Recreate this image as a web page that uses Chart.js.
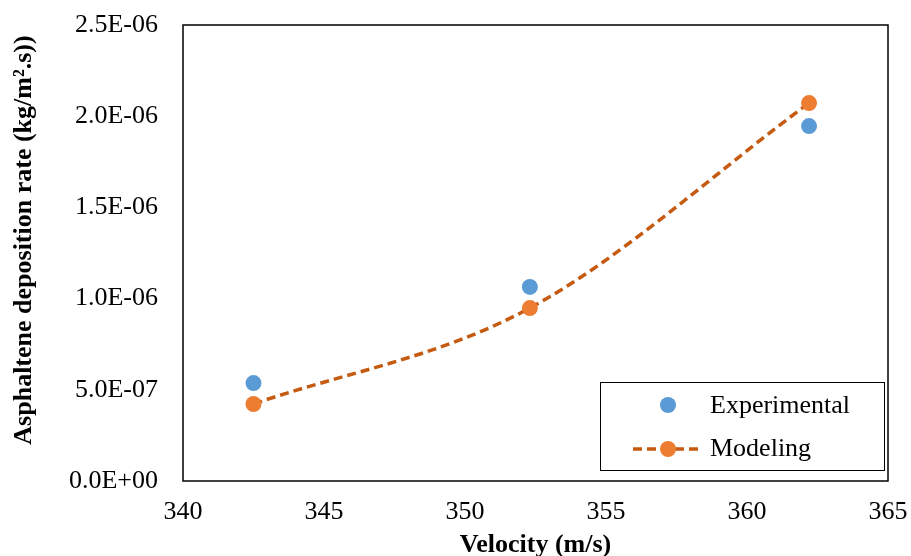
<!DOCTYPE html>
<html>
<head>
<meta charset="utf-8">
<script src="https://cdn.jsdelivr.net/npm/chart.js@4"></script>
<style>
  html, body { margin: 0; padding: 0; background: #fff; }
  #wrap { width: 911px; height: 556px; }
</style>
</head>
<body>
<div id="wrap"><canvas id="c" width="911" height="556"></canvas></div>
<script>
// values
const velocity = [342.5, 352.3, 362.2];
const experimental = [5.37e-7, 1.064e-6, 1.946e-6];
const modeling = [4.22e-7, 9.48e-7, 2.072e-6];
const xTicks = [340, 345, 350, 355, 360, 365];
const yTicks = [0, 5e-7, 1e-6, 1.5e-6, 2e-6, 2.5e-6];
const seriesNames = ["Experimental", "Modeling"];
const yTitle = "Asphaltene deposition rate (kg/m\u00B2.s))";

const SERIF = "'Liberation Serif', 'Times New Roman', serif";

function sci(v) {
  if (v === 0) return "0.0E+00";
  let e = Math.floor(Math.log10(Math.abs(v)) + 1e-9);
  let m = v / Math.pow(10, e);
  const s = e < 0 ? "-" : "+";
  const a = Math.abs(e);
  return m.toFixed(1) + "E" + s + (a < 10 ? "0" + a : a);
}

// frame box, y title and legend
const framePlugin = {
  id: "frame",
  afterDraw(chart) {
    const { ctx, chartArea: a } = chart;
    ctx.save();
    ctx.strokeStyle = "#000";
    ctx.lineWidth = 1.5;
    ctx.strokeRect(a.left, a.top, a.right - a.left, a.bottom - a.top);

    // y title
    ctx.save();
    ctx.translate(24, 240);
    ctx.rotate(-Math.PI / 2);
    ctx.font = "bold 26px " + SERIF;
    ctx.fillStyle = "#000";
    ctx.textAlign = "center";
    ctx.textBaseline = "middle";
    ctx.fillText(yTitle, 0, 0);
    ctx.restore();

    // legend box
    ctx.lineWidth = 1;
    ctx.strokeRect(600.5, 382.5, 284, 88);
    ctx.font = "26px " + SERIF;
    ctx.fillStyle = "#000";
    ctx.textBaseline = "middle";
    ctx.fillText(seriesNames[0], 710, 406);
    ctx.fillText(seriesNames[1], 710, 449);

    ctx.fillStyle = "#5B9BD5";
    ctx.beginPath(); ctx.arc(668, 405, 8, 0, Math.PI * 2); ctx.fill();

    ctx.strokeStyle = "#C55A11";
    ctx.lineWidth = 3.5;
    ctx.setLineDash([9, 5]);
    ctx.beginPath(); ctx.moveTo(633, 449); ctx.lineTo(703, 449); ctx.stroke();
    ctx.setLineDash([]);
    ctx.fillStyle = "#ED7D31";
    ctx.beginPath(); ctx.arc(668, 449, 8, 0, Math.PI * 2); ctx.fill();
    ctx.restore();
  }
};

new Chart(document.getElementById("c"), {
  type: "scatter",
  data: {
    datasets: [
      {
        label: seriesNames[0],
        data: velocity.map((x, i) => ({ x: x, y: experimental[i] })),
        showLine: false,
        pointRadius: 8,
        pointBackgroundColor: "#5B9BD5",
        pointBorderWidth: 0,
      },
      {
        label: seriesNames[1],
        data: velocity.map((x, i) => ({ x: x, y: modeling[i] })),
        showLine: true,
        borderColor: "#C55A11",
        borderWidth: 3.5,
        borderDash: [9, 5],
        tension: 0.4,
        cubicInterpolationMode: "monotone",
        pointRadius: 8,
        pointBackgroundColor: "#ED7D31",
        pointBorderWidth: 0,
      },
    ],
  },
  options: {
    responsive: false,
    animation: false,
    layout: { padding: { top: 25, right: 23, left: 0, bottom: 0 } },
    plugins: { legend: { display: false }, tooltip: { enabled: false } },
    scales: {
      x: {
        type: "linear",
        min: 340,
        max: 365,
        afterBuildTicks: (s) => { s.ticks = xTicks.map((v) => ({ value: v })); },
        afterFit: (s) => { s.height = 75; s.paddingLeft = 0; s.paddingRight = 0; },
        grid: { display: false, drawTicks: false },
        border: { display: false },
        ticks: {
          color: "#000",
          font: { family: SERIF, size: 26 },
          padding: 16,
          maxRotation: 0,
        },
        title: {
          display: true,
          text: "Velocity (m/s)",
          color: "#000",
          font: { family: SERIF, size: 26, weight: "bold" },
          padding: { top: 0, bottom: -5 },
        },
      },
      y: {
        min: 0,
        max: 2.5e-6,
        afterBuildTicks: (s) => { s.ticks = yTicks.map((v) => ({ value: v })); },
        afterFit: (s) => { s.width = 183; s.paddingTop = 0; s.paddingBottom = 0; },
        grid: { display: false, drawTicks: false },
        border: { display: false },
        ticks: {
          color: "#000",
          font: { family: SERIF, size: 26 },
          padding: 25,
          callback: (v) => sci(v),
        },
        title: { display: false },
      },
    },
  },
  plugins: [framePlugin],
});
</script>
</body>
</html>
